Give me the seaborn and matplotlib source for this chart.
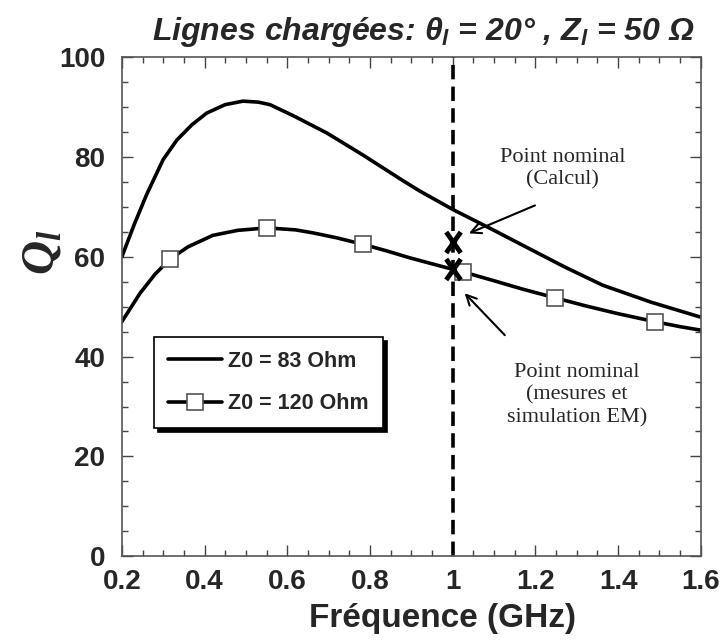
import matplotlib
matplotlib.use("Agg")
import matplotlib.pyplot as plt
from matplotlib.ticker import MultipleLocator
from matplotlib.path import Path
import seaborn as sns
import pandas as pd

# Z0 = 83 Ohm curve
freq_83 = [0.2, 0.23, 0.26, 0.3, 0.333, 0.37, 0.405, 0.45, 0.493, 0.53, 0.558,
           0.614, 0.696, 0.783, 0.879, 0.92, 1.0, 1.1, 1.179, 1.27, 1.363, 1.48, 1.6]
q_83 = [60.0, 66.5, 72.5, 79.5, 83.4, 86.5, 88.8, 90.5, 91.2, 91.0, 90.5,
        88.3, 84.8, 80.4, 75.3, 73.2, 69.5, 65.3, 61.9, 58.0, 54.3, 50.9, 47.9]

# Z0 = 120 Ohm curve
freq_120 = [0.2, 0.244, 0.28, 0.316, 0.36, 0.42, 0.48, 0.551, 0.62, 0.662, 0.72,
            0.783, 0.84, 0.896, 0.95, 1.0, 1.024, 1.1, 1.17, 1.247, 1.32, 1.4,
            1.489, 1.55, 1.6]
q_120 = [47.0, 52.7, 56.5, 59.5, 62.0, 64.3, 65.3, 65.8, 65.4, 64.8, 63.8,
         62.5, 61.2, 59.8, 58.6, 57.5, 57.0, 55.2, 53.5, 51.8, 50.2, 48.6,
         47.0, 46.0, 45.3]
marker_idx = [3, 7, 11, 16, 19, 22]

# nominal points at 1 GHz
nominal_freq = [1.0, 1.0]
nominal_q = [63.0, 57.5]

df83 = pd.DataFrame({"f": freq_83, "q": q_83})
df120 = pd.DataFrame({"f": freq_120, "q": q_120})

sns.set_style("ticks")
plt.rcParams["font.family"] = ["Liberation Sans", "DejaVu Sans"]
plt.rcParams["mathtext.fontset"] = "custom"
plt.rcParams["mathtext.it"] = "Liberation Sans:italic:bold"
plt.rcParams["mathtext.rm"] = "Liberation Sans:bold"
plt.rcParams["mathtext.cal"] = "Liberation Serif:italic:bold"

fig = plt.figure(figsize=(7.21, 6.43), dpi=100)
ax = fig.add_axes([0.169, 0.135, 0.803, 0.776])

sns.lineplot(data=df83, x="f", y="q", ax=ax, color="black", lw=2.6,
             sort=False, estimator=None, label="Z0 = 83 Ohm")
sns.lineplot(data=df120, x="f", y="q", ax=ax, color="black", lw=2.6,
             sort=False, estimator=None, marker="s", markevery=marker_idx,
             markersize=11, markerfacecolor="white", markeredgecolor="#555555",
             markeredgewidth=1.2, label="Z0 = 120 Ohm")

ax.axvline(1.0, color="black", lw=2.6, ls=(0, (4, 2)), zorder=1)

# tall X marker like the original
cross = Path([(-0.7, -1), (0.7, 1), (-0.7, 1), (0.7, -1)],
             [Path.MOVETO, Path.LINETO, Path.MOVETO, Path.LINETO])
ax.plot(nominal_freq, nominal_q, ls="none", marker=cross, color="black",
        markersize=15, markeredgewidth=3.5, zorder=5)

ax.set_xlim(0.2, 1.6)
ax.set_ylim(0, 100)
ax.xaxis.set_minor_locator(MultipleLocator(0.05))
ax.yaxis.set_major_locator(MultipleLocator(20))
ax.yaxis.set_minor_locator(MultipleLocator(5))
ax.set_xticks([0.2, 0.4, 0.6, 0.8, 1.0, 1.2, 1.4, 1.6])
ax.set_xticklabels(["0.2", "0.4", "0.6", "0.8", "1", "1.2", "1.4", "1.6"])
ax.tick_params(which="both", direction="in", top=True, right=True,
               color="#444444", width=1)
ax.tick_params(which="major", length=8, labelsize=20)
ax.tick_params(axis="x", which="major", pad=9)
ax.tick_params(axis="y", which="major", pad=12)
ax.tick_params(which="minor", length=4)
for lab in ax.get_xticklabels() + ax.get_yticklabels():
    lab.set_fontweight("bold")
for sp in ax.spines.values():
    sp.set_color("#555555")
    sp.set_linewidth(1.2)

ax.set_xlabel("Fréquence (GHz)", fontsize=24, fontweight="bold")
ax.xaxis.set_label_coords(0.553, -0.094)
ax.set_ylabel(r"$\mathcal{Q}_{\mathcal{l}}$", fontsize=34)
ax.yaxis.set_label_coords(-0.1, 0.61)
ax.set_title(r"Lignes chargées: $\theta_l$ = 20° , $Z_l$ = 50 Ω",
             fontsize=23, fontweight="bold", style="italic", x=0.52, y=1.035,
             pad=0)

ax.text(1.266, 77.6, "Point nominal\n(Calcul)", ha="center", va="center",
        fontsize=16, family="Liberation Serif", linespacing=1.25)
ax.annotate("", xy=(1.039, 64.7), xytext=(1.199, 70.3),
            arrowprops=dict(arrowstyle="->", color="black", lw=1.5,
                            shrinkA=0, shrinkB=0, mutation_scale=18))
ax.text(1.30, 32.3, "Point nominal\n(mesures et\nsimulation EM)", ha="center",
        va="center", fontsize=16, family="Liberation Serif", linespacing=1.25)
ax.annotate("", xy=(1.029, 52.7), xytext=(1.126, 44.3),
            arrowprops=dict(arrowstyle="->", color="black", lw=1.5,
                            shrinkA=0, shrinkB=0, mutation_scale=18))

leg = ax.legend(loc="upper left", bbox_to_anchor=(0.055, 0.44), fontsize=15.5,
                frameon=True, fancybox=False, handlelength=2.5,
                borderpad=0.65, labelspacing=1.0, handletextpad=0.3,
                borderaxespad=0,
                shadow={"color": "black", "alpha": 1, "ox": 3, "oy": -3})
leg.get_frame().set_edgecolor("black")
leg.get_frame().set_linewidth(1.2)
for t in leg.get_texts():
    t.set_fontweight("bold")

fig.savefig("out.png", dpi=100)
